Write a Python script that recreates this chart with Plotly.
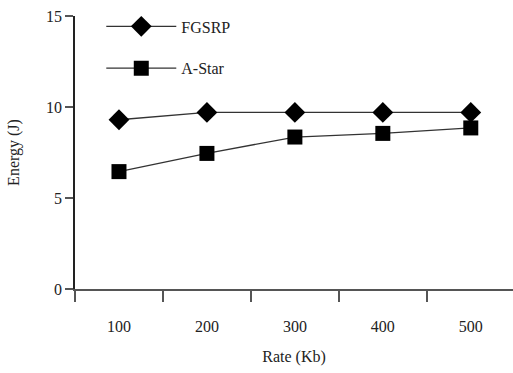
import plotly.graph_objects as go

rates = ["100", "200", "300", "400", "500"]
fgsrp = [9.3, 9.7, 9.7, 9.7, 9.7]
astar = [6.45, 7.45, 8.35, 8.55, 8.85]

font = dict(family="Liberation Serif", size=16, color="#222")

fig = go.Figure()
fig.add_trace(go.Scatter(
    x=rates, y=fgsrp, name="FGSRP", mode="lines+markers", legendgroup="a",
    line=dict(color="#333", width=1.3),
    marker=dict(symbol="diamond", size=16, color="black"),
))
fig.add_trace(go.Scatter(
    x=rates, y=astar, name="A-Star", mode="lines+markers", legendgroup="b",
    line=dict(color="#333", width=1.3),
    marker=dict(symbol="square", size=15, color="black"),
))

fig.update_layout(
    width=513, height=373,
    margin=dict(l=75, r=0, t=16, b=84, autoexpand=False),
    paper_bgcolor="white", plot_bgcolor="white",
    font=font,
    showlegend=True,
    legend=dict(x=0.06, y=1.024, xanchor="left", yanchor="top",
                itemwidth=70, tracegroupgap=18, font=font,
                bgcolor="rgba(0,0,0,0)"),
    xaxis=dict(
        type="category", range=[-0.5, 4.48],
        showline=True, linecolor="#555", linewidth=2,
        ticks="outside", tickson="boundaries", ticklen=11, tickcolor="#555", tickwidth=2,
        ticklabelstandoff=22,
        showgrid=False, zeroline=False,
        title=dict(text="Rate (Kb)", font=font, standoff=17),
    ),
    yaxis=dict(
        range=[0, 15], tickvals=[0, 5, 10, 15],
        showline=True, linecolor="#222", linewidth=1.5,
        ticks="outside", ticklen=8, tickcolor="#555", tickwidth=1.5,
        showgrid=False, zeroline=False,
        title=dict(text="Energy (J)", font=font, standoff=22),
    ),
)

fig.write_html("out.html")
